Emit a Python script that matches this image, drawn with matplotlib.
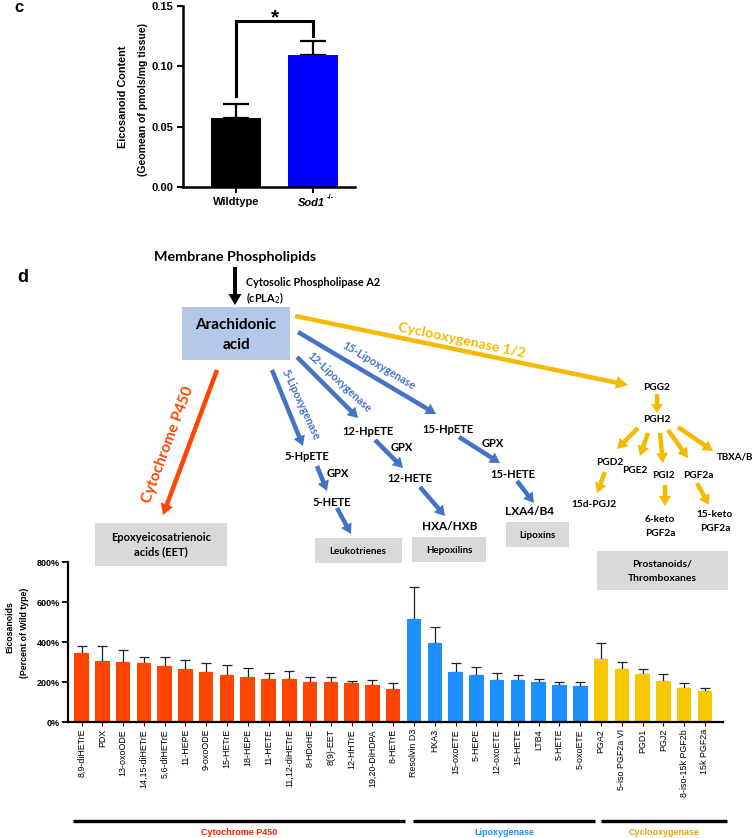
import matplotlib
matplotlib.use('Agg')
import matplotlib.pyplot as plt
from matplotlib.patches import FancyArrow, Rectangle
from matplotlib.ticker import FuncFormatter

plt.rcParams['font.family'] = ['Liberation Sans', 'DejaVu Sans']

# ---- panel c data
c_groups = ['Wildtype', 'Sod1']
c_means = [0.057, 0.109]
c_err = [0.012, 0.012]
c_colors = ['black', '#0000FF']

# ---- panel d data (percent of wild type, upper SEM)
cyp_names = ['8,9-diHETrE', 'PDX', '13-oxoODE', '14,15-diHETrE', '5,6-diHETrE', '11-HEPE',
             '9-oxoODE', '15-HETrE', '18-HEPE', '11-HETE', '11,12-diHETrE', '8-HDoHE',
             '8(9)-EET', '12-HHTrE', '19,20-DiHDPA', '8-HETrE']
cyp_vals = [343, 307, 302, 293, 280, 265, 248, 235, 225, 213, 215, 198, 198, 193, 183, 167]
cyp_err = [39, 75, 58, 34, 43, 45, 49, 48, 45, 30, 38, 25, 25, 14, 27, 28]

lox_names = ['Resolvin D3', 'HXA3', '15-oxoETE', '5-HEPE', '12-oxoETE', '15-HETE',
             'LTB4', '5-HETE', '5-oxoETE']
lox_vals = [515, 397, 252, 237, 210, 208, 198, 183, 180]
lox_err = [158, 80, 45, 40, 33, 29, 17, 17, 22]

cox_names = ['PGA2', '5-iso PGF2a VI', 'PGD1', 'PGJ2', '8-iso-15k PGF2b', '15k PGF2a']
cox_vals = [317, 263, 240, 205, 172, 155]
cox_err = [76, 37, 27, 37, 25, 13]

RED = '#FF4500'
BLUE = '#1E8FFF'
YEL = '#F5C800'
DBLUE = '#4472C4'
GOLD = '#F5BA00'

W, H = 754, 838
fig = plt.figure(figsize=(W / 100, H / 100), dpi=100)


def fx(px):
    return px / W


def fy(py):
    return 1 - py / H


# ---------------- panel c
ax_c = fig.add_axes([fx(183), fy(187), 172 / W, 181 / H])
xc = [0, 1]
ax_c.bar(xc, c_means, width=0.66, color=c_colors, zorder=2)
ax_c.errorbar(xc, c_means, yerr=[[0, 0], c_err], fmt='none', ecolor='black',
              elinewidth=1.6, capsize=9.5, capthick=1.6, zorder=1)
ax_c.plot([0, 0, 1, 1], [0.075, 0.1376, 0.1376, 0.125], color='black', lw=2.2,
          clip_on=False, solid_joinstyle='miter')
ax_c.text(0.5, 0.1405, '*', ha='center', va='center', fontsize=15, fontweight='bold')
ax_c.set_xlim(-0.69, 1.545)
ax_c.set_ylim(0, 0.15)
ax_c.set_yticks([0, 0.05, 0.10, 0.15])
ax_c.yaxis.set_major_formatter(FuncFormatter(lambda v, p: '%.2f' % v))
ax_c.set_xticks(xc)
ax_c.set_xticklabels(['Wildtype', ''], fontsize=8, fontweight='bold')
for lab in ax_c.get_yticklabels():
    lab.set_fontweight('bold')
    lab.set_fontsize(8)
ax_c.tick_params(width=1.5, length=4, pad=3)
for s in ['top', 'right']:
    ax_c.spines[s].set_visible(False)
for s in ['left', 'bottom']:
    ax_c.spines[s].set_linewidth(1.8)

# ---------------- panel d bars
ax_d = fig.add_axes([fx(68), fy(722), (723 - 68) / W, 160 / H])
names = cyp_names + lox_names + cox_names
vals = cyp_vals + lox_vals + cox_vals
errs = cyp_err + lox_err + cox_err
cols = [RED] * len(cyp_vals) + [BLUE] * len(lox_vals) + [YEL] * len(cox_vals)
xd = list(range(len(vals)))
ax_d.bar(xd, vals, width=0.7, color=cols, zorder=2)
ax_d.errorbar(xd, vals, yerr=[[0] * len(errs), errs], fmt='none', ecolor='#222222',
              elinewidth=0.9, capsize=3.4, capthick=0.9, zorder=1)
ax_d.set_xlim(-0.65, 30.87)
ax_d.set_ylim(0, 800)
ax_d.set_yticks([0, 200, 400, 600, 800])
ax_d.yaxis.set_major_formatter(FuncFormatter(lambda v, p: '%d%%' % v))
ax_d.set_xticks(xd)
ax_d.set_xticklabels(names, rotation=90, fontsize=6.4)
for lab in ax_d.get_yticklabels():
    lab.set_fontweight('bold')
    lab.set_fontsize(6.5)
ax_d.tick_params(axis='y', width=1.3, length=4, pad=2)
ax_d.tick_params(axis='x', width=0.8, length=3, pad=2)
for s in ['top', 'right']:
    ax_d.spines[s].set_visible(False)
for s in ['left', 'bottom']:
    ax_d.spines[s].set_linewidth(1.6)

# ---------------- overlay in pixel coordinates
ov = fig.add_axes([0, 0, 1, 1])
ov.set_xlim(0, W)
ov.set_ylim(H, 0)
ov.axis('off')


def t(x, y, s, size=7.5, color='black', rot=0, weight='bold', ha='center',
      family='Lato', style='normal'):
    ov.text(x, y, s, fontsize=size, color=color, rotation=rot, rotation_mode='anchor',
            ha=ha, va='center', family=[family, 'DejaVu Sans'], fontweight=weight,
            style=style)


def arr(x0, y0, x1, y1, color, w=4.5, hw=12, hl=10):
    ov.add_patch(FancyArrow(x0, y0, x1 - x0, y1 - y0, width=w, head_width=hw,
                            head_length=hl, length_includes_head=True, color=color, lw=0))


def box(x0, y0, x1, y1, color='#D9D9D9'):
    ov.add_patch(Rectangle((x0, y0), x1 - x0, y1 - y0, facecolor=color, edgecolor='none'))


# panel letters and axis labels
t(19, 8, 'c', size=12, family='Liberation Sans')
t(23, 277, 'd', size=13, family='Liberation Sans')
t(123, 97, 'Eicosanoid Content', size=7.8, rot=90, family='Liberation Sans')
t(143, 100, '(Geomean of pmols/mg tissue)', size=7.6, rot=90, family='Liberation Sans')
t(325, 203, 'Sod1', size=8, ha='right', family='Liberation Sans', style='italic')
t(327, 197, '-/-', size=5.5, ha='left', family='Liberation Sans')
t(10, 627, 'Eicosanoids', size=6.3, rot=90, family='Liberation Sans')
t(25, 633, '(Percent of Wild type)', size=6.3, rot=90, family='Liberation Sans')

# pathway header
t(235, 257, 'Membrane Phospholipids', size=10.3)
arr(235, 267, 235, 305, 'black', w=4, hw=13, hl=11)
t(246, 282, 'Cytosolic Phospholipase A2', size=7.8, ha='left')
t(246, 298, '(cPLA$_2$)', size=7.8, ha='left')
box(182, 307, 290, 360, '#B4C7E7')
t(236, 325, 'Arachidonic', size=11)
t(236, 345, 'acid', size=11)

# cytochrome P450 branch
arr(217, 370, 163, 515, RED, w=4.5, hw=13, hl=11)
t(168, 445, 'Cytochrome P450', size=11, color=RED, rot=69.5)
box(95, 523, 227, 566)
t(161, 537, 'Epoxyeicosatrienoic', size=8)
t(161, 552, 'acids (EET)', size=8)

# lipoxygenase branches
arr(272, 370, 303, 446, DBLUE)
t(301, 405, '5-Lipoxygenase', size=7.8, color=DBLUE, rot=-65)
arr(297, 357, 358, 418, DBLUE)
t(339, 382, '12-Lipoxygenase', size=7.8, color=DBLUE, rot=-43)
arr(298, 332, 436, 414, DBLUE)
t(379, 366, '15-Lipoxygenase', size=7.8, color=DBLUE, rot=-31)

t(307, 456, '5-HpETE', size=8)
arr(317, 466, 327, 491, DBLUE)
t(338, 473, 'GPX', size=8)
t(332, 502, '5-HETE', size=8)
arr(337, 508, 351, 534, DBLUE)
box(315, 538, 402, 563)
t(358, 551, 'Leukotrienes', size=7)

t(368, 431, '12-HpETE', size=8)
arr(375, 440, 403, 468, DBLUE)
t(402, 447, 'GPX', size=8)
t(410, 478, '12-HETE', size=8)
arr(420, 487, 445, 516, DBLUE)
t(450, 526, 'HXA/HXB', size=8.5)
box(412, 537, 486, 562)
t(449, 550, 'Hepoxilins', size=7)

t(448, 429, '15-HpETE', size=8)
arr(459, 437, 500, 463, DBLUE)
t(493, 443, 'GPX', size=8)
t(513, 474, '15-HETE', size=8)
arr(517, 481, 534, 503, DBLUE)
t(529, 511, 'LXA4/B4', size=8.5)
box(506, 522, 569, 547)
t(537, 535, 'Lipoxins', size=7)

# cyclooxygenase branch
arr(295, 316, 628, 385, GOLD, w=4.5, hw=13, hl=12)
t(462, 340, 'Cyclooxygenase 1/2', size=10.3, color=GOLD, rot=-11.8)
t(657, 387, 'PGG2', size=7.3)
arr(657, 394, 657, 413, GOLD, w=4.5, hw=12, hl=9)
t(657, 419, 'PGH2', size=7.3)
arr(638, 428, 617, 449, GOLD)
arr(648, 433, 640, 456, GOLD)
arr(660, 433, 663, 463, GOLD)
arr(668, 430, 688, 458, GOLD)
arr(678, 427, 713, 451, GOLD)
t(610, 462, 'PGD2', size=7.3)
t(635, 470, 'PGE2', size=7.3)
t(663, 475, 'PGI2', size=7.3)
t(698, 475, 'PGF2a', size=7.3)
t(717, 457, 'TBXA/B', size=7, ha='left')
arr(605, 472, 597, 493, GOLD)
arr(665, 485, 665, 506, GOLD)
arr(697, 483, 709, 505, GOLD)
t(594, 504, '15d-PGJ2', size=7.3)
t(660, 519, '6-keto', size=7.3)
t(660, 533, 'PGF2a', size=7.3)
t(715, 514, '15-keto', size=7.3)
t(715, 528, 'PGF2a', size=7.3)
box(597, 551, 728, 590)
t(662, 564, 'Prostanoids/', size=7.5)
t(662, 578, 'Thromboxanes', size=7.5)

# group brackets below the bar chart
for (x0, x1, lab, col) in [(73, 405, 'Cytochrome P450', '#FF1A00'),
                           (413, 595, 'Lipoxygenase', '#1E8FFF'),
                           (601, 727, 'Cyclooxygenase', '#DDAA00')]:
    ov.plot([x0, x1], [821, 821], color='black', lw=2.4, solid_capstyle='butt')
    t((x0 + x1) / 2, 832, lab, size=6.5, color=col, family='Liberation Sans')

fig.savefig('out.png', dpi=100)
